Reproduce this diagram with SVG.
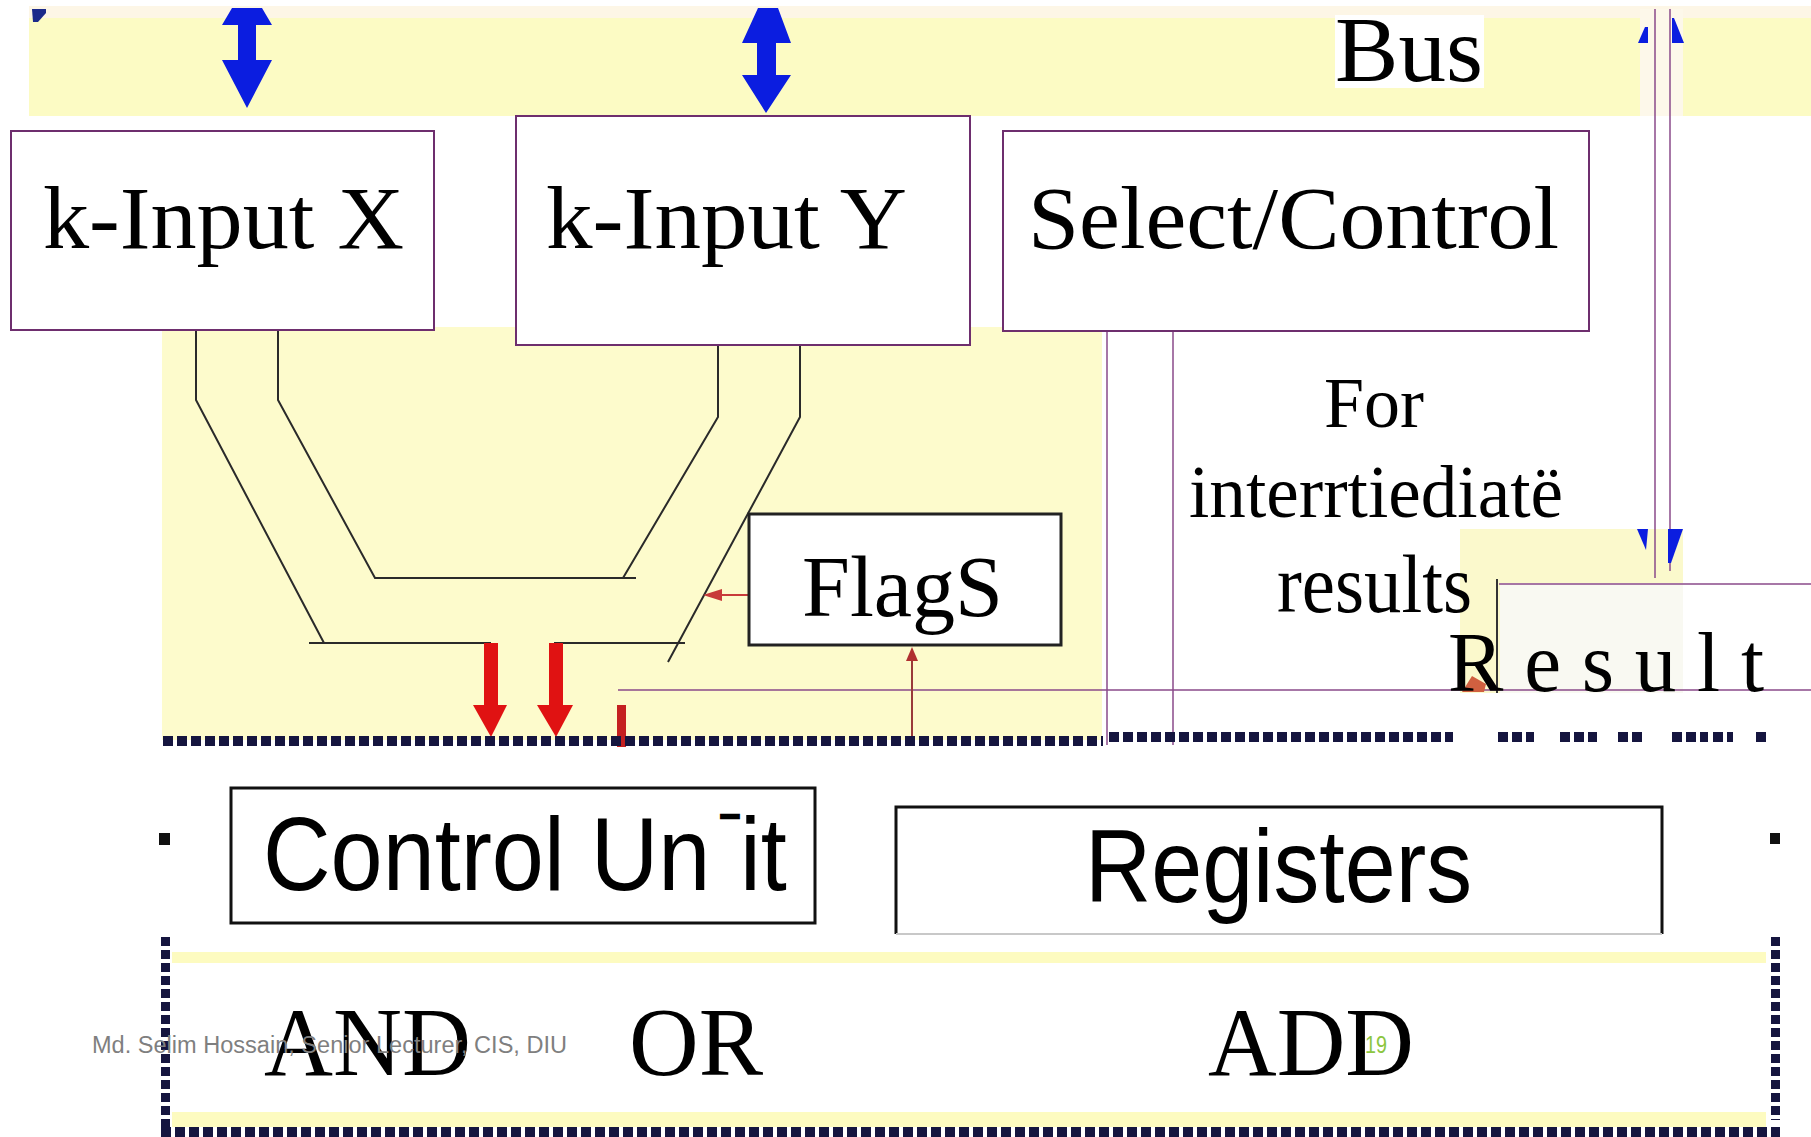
<svg xmlns="http://www.w3.org/2000/svg" width="1811" height="1137" viewBox="0 0 1811 1137">
<style>
.serif{font-family:"Liberation Serif","Times New Roman",serif;fill:#000}
.sans{font-family:"Liberation Sans",Arial,sans-serif;fill:#000}
.pbox{fill:#fff;stroke:#6e2e6e;stroke-width:2}
.bbox{fill:#fff;stroke:#111;stroke-width:3}
.wire{fill:none;stroke:#2a2a2a;stroke-width:2}
.pl{fill:none;stroke:#8a4a8a;stroke-width:1.5}
.dot{fill:none;stroke:#15153f;stroke-width:10;stroke-dasharray:10 4}
.vdot{fill:none;stroke:#15153f;stroke-width:9;stroke-dasharray:9 4}
.blue{fill:#0b1de0}
.red{fill:#e01212}
</style>
<rect width="1811" height="1137" fill="#fff"/>
<!-- backgrounds -->
<rect x="29" y="6" width="1782" height="110" fill="#fcfbc4"/>
<rect x="29" y="6" width="1782" height="12" fill="#fdf6e6"/>
<rect x="1640" y="9" width="43" height="107" fill="#fdf8ea"/>
<polygon points="32,9 46,9 46,13 38,22 33,22" fill="#1b2a8a"/>
<rect x="162" y="327" width="940" height="413" fill="#fdfbcc"/>
<rect x="1460" y="529" width="223" height="54" fill="#fbf9cc"/>
<rect x="1460" y="583" width="40" height="110" fill="#fbf9cc"/>
<rect x="1500" y="583" width="183" height="110" fill="#f9f9f2"/>
<rect x="172" y="952" width="1594" height="11" fill="#fdfbc0"/>
<rect x="172" y="1112" width="1594" height="15" fill="#fdfbc0"/>
<rect id="bus-bg" x="1335" y="15" width="149" height="73" fill="#fff"/>

<g id="connectors">
  <!-- ALU wires -->
  <path class="wire" d="M196,329 L196,400 L324,643"/>
  <path class="wire" d="M309,643 L491,643"/>
  <path class="wire" d="M554,643 L685,643"/>
  <path class="wire" d="M278,329 L278,400 L375,578 L636,578"/>
  <path class="wire" d="M718,345 L718,417 L623,578"/>
  <path class="wire" d="M800,345 L800,417 L668,662"/>
  <!-- purple lines -->
  <path class="pl" d="M1107,331 L1107,745"/>
  <path class="pl" d="M1173,331 L1173,745"/>
  <path class="pl" d="M1655,9 L1655,578"/>
  <path class="pl" d="M1670,9 L1670,571"/>
  <path class="pl" d="M1499,584 L1811,584"/>
  <path class="pl" d="M618,690 L1811,690"/>
  <path d="M1497,579 L1497,693" stroke="#333" stroke-width="2"/>
  <!-- blue bus arrows -->
  <polygon class="blue" points="232,8 262,8 272,25 256,25 256,60 272,60 247,108 222,60 238,60 238,25 222,25"/>
  <polygon class="blue" points="758,8 778,8 791,43 776,43 776,75 791,75 766,113 742,75 757,75 757,43 742,43"/>
  <polygon class="blue" points="1645,27 1648,27 1648,43 1638,43"/>
  <polygon class="blue" points="1672,18 1674,18 1684,43 1672,43"/>
  <polygon class="blue" points="1637,529 1648,529 1646,550"/>
  <polygon class="blue" points="1668,529 1683,529 1671,563 1668,563"/>
  <!-- red arrows -->
  <polygon class="red" points="484,643 498,643 498,705 507,705 491,737 473,705 484,705"/>
  <polygon class="red" points="549,643 563,643 563,705 573,705 556,737 537,705 549,705"/>
  <rect x="617" y="705" width="9" height="42" fill="#c42020"/>
  <path d="M749,595 L716,595" stroke="#c83a3a" stroke-width="2"/>
  <polygon points="703,595 722,589 722,601" fill="#c83a3a"/>
  <path d="M912,659 L912,737" stroke="#9a3a3a" stroke-width="2"/>
  <polygon points="912,647 918,661 906,661" fill="#b03030"/>
  <polygon points="1462,692 1472,676 1486,684 1484,692" fill="#d06040"/>
  <!-- dotted bus lines -->
  <path class="dot" d="M163,741 L1103,741"/>
  <path class="dot" d="M1109,737 L1453,737"/>
  <path class="dot" d="M1498,737 L1534 737 M1560,737 L1597,737 M1618,737 L1642,737 M1672,737 L1708,737 M1713,737 L1733,737 M1756,737 L1767,737"/>
  <path class="vdot" d="M165.5,937 L165.5,1137"/>
  <path class="vdot" d="M1775.5,937 L1775.5,1120"/>
  <path class="dot" d="M161,1132 L1780,1132"/>
  <rect x="159" y="833" width="11" height="12" fill="#111"/>
  <rect x="1770" y="833" width="10" height="11" fill="#111"/>
</g>

<g id="bus-label">
  <text class="serif" x="1335" y="81" font-size="93" textLength="148" lengthAdjust="spacingAndGlyphs">Bus</text>
</g>
<g id="k-input-x">
  <rect class="pbox" x="11" y="131" width="423" height="199"/>
  <text class="serif" x="43" y="248" font-size="88" textLength="361" lengthAdjust="spacingAndGlyphs">k-Input X</text>
</g>
<g id="k-input-y">
  <rect class="pbox" x="516" y="116" width="454" height="229"/>
  <text class="serif" x="546" y="248" font-size="88" textLength="361" lengthAdjust="spacingAndGlyphs">k-Input Y</text>
</g>
<g id="select-control">
  <rect class="pbox" x="1003" y="131" width="586" height="200"/>
  <text class="serif" x="1028" y="248" font-size="89" textLength="531" lengthAdjust="spacingAndGlyphs">Select/Control</text>
</g>
<g id="flags">
  <rect x="749" y="514" width="312" height="131" fill="#fff" stroke="#222" stroke-width="3"/>
  <text class="serif" x="802" y="616" font-size="87" textLength="201" lengthAdjust="spacingAndGlyphs">FlagS</text>
</g>
<g id="intermediate-label">
  <text class="serif" x="1324" y="427" font-size="71" textLength="100" lengthAdjust="spacingAndGlyphs">For</text>
  <text class="serif" x="1189" y="517" font-size="73" textLength="374" lengthAdjust="spacingAndGlyphs">interrtiediatë</text>
  <text class="serif" x="1277" y="612" font-size="83" textLength="195" lengthAdjust="spacingAndGlyphs">results</text>
</g>
<g id="result">
  <text class="serif" x="1448" y="691" font-size="85" textLength="316" lengthAdjust="spacingAndGlyphs">R e s u l t</text>
</g>
<g id="control-unit">
  <rect class="bbox" x="231" y="788" width="584" height="135"/>
  <text class="sans" font-size="104" transform="translate(263 890) scale(0.9 1)"><tspan x="0" y="0">Control Un</tspan><tspan x="510" dy="-50" font-size="32" stroke="#000" stroke-width="4">¯</tspan><tspan x="530" dy="50">it</tspan></text>
</g>
<g id="registers">
  <rect x="896" y="807" width="766" height="127" fill="#fff"/>
  <path d="M896,934 L896,807 L1662,807 L1662,934" fill="none" stroke="#111" stroke-width="3"/>
  <path d="M896,934 L1662,934" stroke="#c8c8c8" stroke-width="2"/>
  <text class="sans" x="1085" y="902" font-size="103" textLength="387" lengthAdjust="spacingAndGlyphs">Registers</text>
</g>
<g id="alu-ops">
  <text class="serif" x="264" y="1075" font-size="98" textLength="207" lengthAdjust="spacingAndGlyphs" fill="#111">AND</text>
  <text class="serif" x="629" y="1075" font-size="98" textLength="134" lengthAdjust="spacingAndGlyphs" fill="#111">OR</text>
  <text class="serif" x="1208" y="1075" font-size="98" textLength="206" lengthAdjust="spacingAndGlyphs" fill="#111">ADD</text>
</g>
<g id="footer">
  <text x="92" y="1053" font-family="Liberation Sans, Arial, sans-serif" font-size="23" fill="#7f7f7f" textLength="475" lengthAdjust="spacingAndGlyphs">Md. Selim Hossain, Senior Lecturer, CIS, DIU</text>
  <text x="1365" y="1053" font-family="Liberation Sans, Arial, sans-serif" font-size="23" fill="#8cc63f" textLength="22" lengthAdjust="spacingAndGlyphs">19</text>
</g>
</svg>
